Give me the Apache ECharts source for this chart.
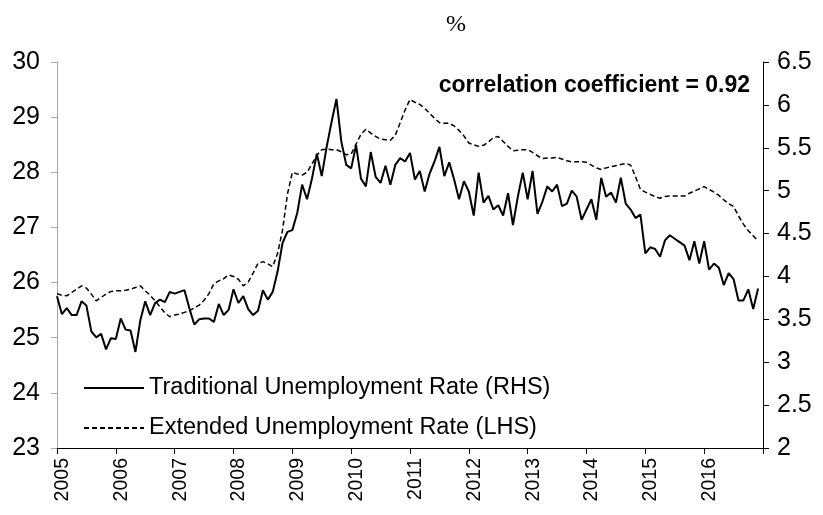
<!DOCTYPE html>
<html>
<head>
<meta charset="utf-8">
<script src="https://cdn.jsdelivr.net/npm/echarts@6/dist/echarts.min.js"></script>
<style>
html,body{margin:0;padding:0;background:#fff;}
#chart{width:823px;height:515px;}
</style>
</head>
<body>
<div id="chart"></div>
<script>
// ---- data ----
const startYear = 2005;
const yearTicks = [2005, 2006, 2007, 2008, 2009, 2010, 2011, 2012, 2013, 2014, 2015, 2016];
const seriesNames = ['Traditional Unemployment Rate (RHS)', 'Extended Unemployment Rate (LHS)'];
const noteText = 'correlation coefficient = 0.92';
const unitText = '%';

// monthly, Jan 2005 - Dec 2016 (right-hand scale)
const traditional = [
  3.77, 3.56, 3.63, 3.55, 3.55, 3.71, 3.66, 3.36, 3.29, 3.33, 3.15, 3.28,
  3.27, 3.51, 3.38, 3.37, 3.12, 3.49, 3.71, 3.55, 3.69, 3.73, 3.70, 3.82,
  3.80, 3.82, 3.84, 3.63, 3.44, 3.50, 3.51, 3.51, 3.47, 3.68, 3.55, 3.61,
  3.85, 3.69, 3.77, 3.62, 3.55, 3.60, 3.84, 3.73, 3.82, 4.06, 4.39, 4.52,
  4.54, 4.74, 5.07, 4.90, 5.14, 5.43, 5.17, 5.51, 5.80, 6.07, 5.57, 5.30,
  5.26, 5.53, 5.14, 5.05, 5.45, 5.16, 5.09, 5.29, 5.07, 5.30, 5.38, 5.34,
  5.44, 5.13, 5.23, 4.99, 5.20, 5.34, 5.51, 5.17, 5.33, 5.13, 4.90, 5.11,
  4.99, 4.71, 5.21, 4.86, 4.94, 4.78, 4.83, 4.71, 4.97, 4.60, 4.93, 5.21,
  4.90, 5.23, 4.73, 4.87, 5.05, 4.99, 5.07, 4.82, 4.85, 5.00, 4.93, 4.66,
  4.78, 4.90, 4.66, 5.15, 4.93, 4.98, 4.86, 5.15, 4.85, 4.78, 4.68, 4.72,
  4.27, 4.34, 4.32, 4.23, 4.42, 4.48, 4.44, 4.40, 4.36, 4.19, 4.41, 4.15,
  4.41, 4.08, 4.15, 4.10, 3.90, 4.04, 3.97, 3.72, 3.72, 3.85, 3.62, 3.86
];
// monthly, Jan 2005 - Dec 2016 (left-hand scale)
const extended = [
  25.80, 25.77, 25.76, 25.82, 25.88, 25.94, 25.90, 25.79, 25.67, 25.73, 25.79, 25.84,
  25.85, 25.85, 25.86, 25.88, 25.91, 25.94, 25.85, 25.77, 25.67, 25.56, 25.45, 25.38,
  25.41, 25.43, 25.46, 25.49, 25.54, 25.59, 25.68, 25.80, 25.98, 26.03, 26.07, 26.14,
  26.11, 26.06, 25.94, 26.01, 26.17, 26.35, 26.38, 26.34, 26.29, 26.53, 26.95, 27.60,
  28.00, 27.97, 27.95, 28.00, 28.15, 28.31, 28.41, 28.42, 28.41, 28.41, 28.37, 28.32,
  28.33, 28.51, 28.69, 28.78, 28.71, 28.65, 28.60, 28.59, 28.58, 28.67, 28.90, 29.13,
  29.32, 29.27, 29.23, 29.16, 29.07, 28.98, 28.90, 28.89, 28.89, 28.84, 28.76, 28.66,
  28.53, 28.50, 28.47, 28.49, 28.55, 28.63, 28.65, 28.56, 28.47, 28.39, 28.40, 28.41,
  28.41, 28.36, 28.30, 28.25, 28.26, 28.26, 28.27, 28.24, 28.21, 28.19, 28.19, 28.19,
  28.18, 28.13, 28.08, 28.05, 28.08, 28.10, 28.12, 28.14, 28.16, 28.13, 27.92, 27.69,
  27.64, 27.60, 27.56, 27.53, 27.56, 27.57, 27.57, 27.57, 27.57, 27.62, 27.66, 27.70,
  27.74, 27.69, 27.64, 27.58, 27.50, 27.43, 27.38, 27.21, 27.06, 26.94, 26.85, 26.75
];

// ---- build ----
const toPairs = arr => arr.map((v, i) => [startYear + i / 12, v]);
const FONT = 'Arial, "Liberation Sans", sans-serif';

const chart = echarts.init(document.getElementById('chart'), null, {renderer: 'canvas'});
chart.setOption({
  backgroundColor: '#ffffff',
  animation: false,
  textStyle: {fontFamily: FONT, color: '#000'},
  grid: {left: 57, right: 60, top: 62, bottom: 67, containLabel: false},
  legend: {
    orient: 'vertical',
    left: 78,
    top: 371,
    itemWidth: 60,
    itemHeight: 14,
    itemGap: 16,
    data: seriesNames,
    itemStyle: {color: 'rgba(0,0,0,0)', borderWidth: 0, opacity: 0},
    textStyle: {fontSize: 23.5, color: '#000', fontFamily: FONT, lineHeight: 24},
    selectedMode: false
  },
  graphic: [
    {type: 'text', right: 73, top: 74,
     style: {text: noteText, font: 'bold 23px ' + FONT, fill: '#000'}},
    {type: 'text', left: 446, top: 13,
     style: {text: unitText, font: '24px "Times New Roman", "Liberation Serif", serif', fill: '#000'}}
  ],
  xAxis: {
    type: 'value',
    min: yearTicks[0],
    max: yearTicks[yearTicks.length - 1] + 1,
    interval: 1,
    axisLine: {show: true, onZero: false, lineStyle: {color: '#000', width: 1}},
    axisTick: {show: true, inside: false, length: 6, lineStyle: {color: '#000'}},
    splitLine: {show: false},
    axisLabel: {
      rotate: 90, fontSize: 19.5, color: '#000', fontFamily: FONT, margin: 10,
      verticalAlign: 'top', lineHeight: 11,
      formatter: v => (yearTicks.indexOf(Math.round(v)) >= 0 ? String(Math.round(v)) : '')
    }
  },
  yAxis: [
    {
      type: 'value', position: 'left', min: 23, max: 30, interval: 1,
      axisLine: {show: true, lineStyle: {color: '#a6a6a6', width: 1}},
      axisTick: {show: true, inside: false, length: 6, lineStyle: {color: '#a6a6a6'}},
      splitLine: {show: false},
      axisLabel: {fontSize: 25, color: '#000', fontFamily: FONT, margin: 17}
    },
    {
      type: 'value', position: 'right', min: 2, max: 6.5, interval: 0.5,
      axisLine: {show: true, lineStyle: {color: '#000', width: 1}},
      axisTick: {show: true, inside: false, length: 6, lineStyle: {color: '#000'}},
      splitLine: {show: false},
      axisLabel: {fontSize: 25, color: '#000', fontFamily: FONT, margin: 14}
    }
  ],
  series: [
    {
      name: seriesNames[0], type: 'line', yAxisIndex: 1,
      data: toPairs(traditional), symbol: 'none', showSymbol: false,
      lineStyle: {color: '#000', width: 2, type: 'solid'},
      itemStyle: {color: '#000'}, z: 3
    },
    {
      name: seriesNames[1], type: 'line', yAxisIndex: 0,
      data: toPairs(extended), symbol: 'none', showSymbol: false,
      lineStyle: {color: '#000', width: 1.5, type: [5, 3]},
      itemStyle: {color: '#000'}, z: 2
    }
  ]
});
</script>
</body>
</html>
